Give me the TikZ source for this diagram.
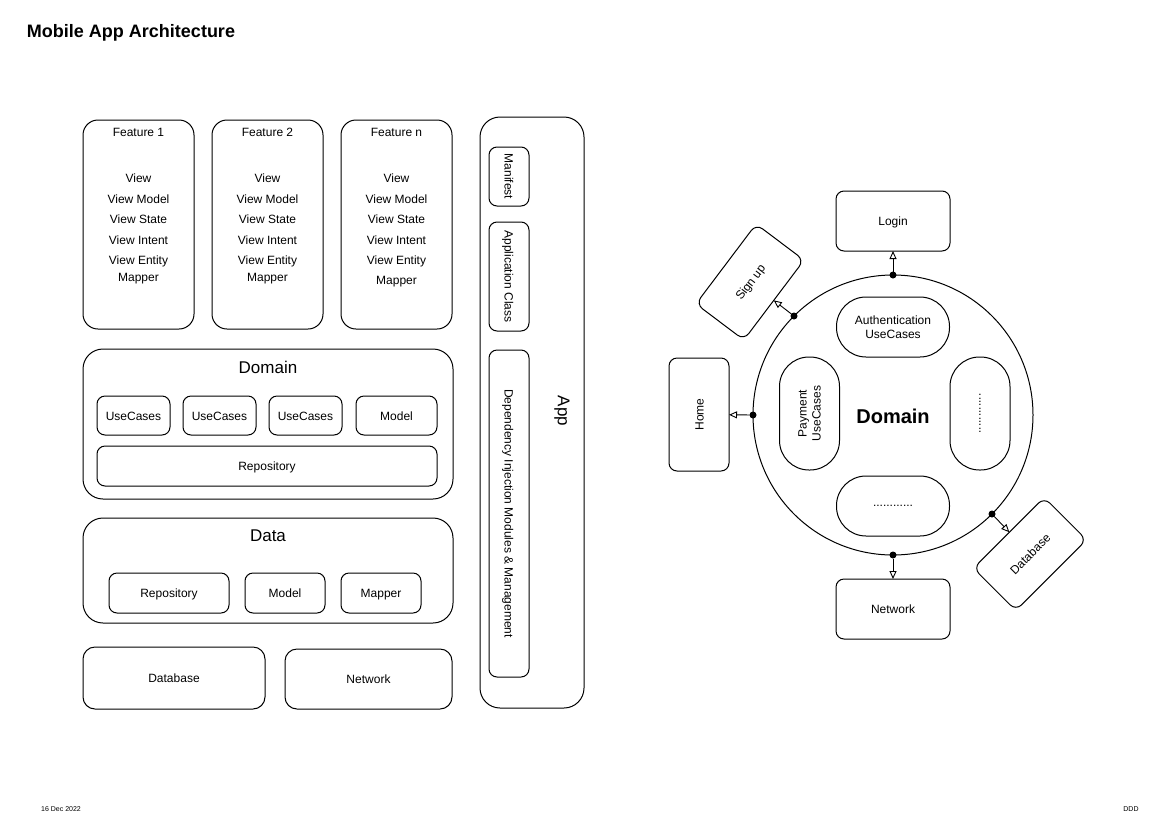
\documentclass[tikz,border=0pt]{standalone}
\usepackage{fontspec}
\setmainfont{Liberation Sans}
\usetikzlibrary{arrows.meta}
\begin{document}
\begin{tikzpicture}[x=1pt,y=-1pt,line width=1pt,
  every node/.style={inner sep=0pt,outer sep=0pt},
  oneline/.style={text height=10pt,text depth=1pt},
  lbl/.style={font=\fontsize{12}{14}\selectfont,oneline},
  head/.style={font=\fontsize{17}{20}\selectfont},
  box/.style={draw,rounded corners=8pt,font=\fontsize{12}{14}\selectfont,align=center,oneline},
  featbox/.style={draw,rounded corners=15pt},
  layer/.style={draw,rounded corners=20pt},
  pill/.style={draw,rounded corners=29.5pt,minimum width=113pt,minimum height=60pt,
    font=\fontsize{12}{14}\selectfont,align=center},
  dot/.style={circle,fill,minimum size=7pt},
  arr/.style={-{Triangle[open,length=8pt,width=7pt]},line width=0.9pt}]
\useasboundingbox[fill=white] (0,0) rectangle (1170,828);

% title and footer
\node[anchor=west,font=\bfseries\fontsize{18}{20}\selectfont] (title) at (27,33) {Mobile App Architecture};
\node[font=\fontsize{7}{8}\selectfont] (date) at (61,809) {16 Dec 2022};
\node[font=\fontsize{7}{8}\selectfont] (author) at (1131,809) {DDD};

% feature modules
\foreach \n/\cx/\t/\my in {f1/138.5/Feature 1/277, f2/267.5/Feature 2/277, fn/396.5/Feature n/280}{
  \node[featbox,minimum width=111pt,minimum height=209pt] (\n) at (\cx,224.5) {};
  \node[lbl] (\n-title) at (\cx,132) {\t};
  \node[lbl] (\n-view) at (\cx,178) {View};
  \node[lbl] (\n-vm) at (\cx,199) {View Model};
  \node[lbl] (\n-vs) at (\cx,219) {View State};
  \node[lbl] (\n-vi) at (\cx,240) {View Intent};
  \node[lbl] (\n-ve) at (\cx,260) {View Entity};
  \node[lbl] (\n-map) at (\cx,\my) {Mapper};
}

% domain layer
\node[layer,minimum width=370pt,minimum height=150pt] (domain) at (268,424) {};
\node[head] (domain-title) at (268,367) {Domain};
\node[box,minimum width=73pt,minimum height=39pt] (uc1) at (133.5,415.5) {UseCases};
\node[box,minimum width=73pt,minimum height=39pt] (uc2) at (219.5,415.5) {UseCases};
\node[box,minimum width=73pt,minimum height=39pt] (uc3) at (305.5,415.5) {UseCases};
\node[box,minimum width=81pt,minimum height=39pt] (dmodel) at (396.5,415.5) {Model};
\node[box,minimum width=340pt,minimum height=40pt] (drepo) at (267,466) {Repository};

% data layer
\node[layer,minimum width=370pt,minimum height=105pt] (data) at (268,570.5) {};
\node[head] (data-title) at (268,536) {Data};
\node[box,minimum width=120pt,minimum height=40pt] (repo) at (169,593) {Repository};
\node[box,minimum width=80pt,minimum height=40pt] (model) at (285,593) {Model};
\node[box,minimum width=80pt,minimum height=40pt] (mapper) at (381,593) {Mapper};

% sources
\node[box,rounded corners=12pt,minimum width=182pt,minimum height=62pt] (db) at (174,678) {Database};
\node[box,rounded corners=12pt,minimum width=167pt,minimum height=60pt] (net) at (368.5,679) {Network};

% app module
\node[layer,minimum width=104pt,minimum height=591pt] (app) at (532,412.5) {};
\node[head,rotate=-90] (app-title) at (562,411) {App};
\node[box,rotate=-90,minimum width=59pt,minimum height=40pt] (manifest) at (509,176.5) {Manifest};
\node[box,rotate=-90,minimum width=109pt,minimum height=40pt] (appclass) at (509,276.5) {Application Class};
\node[box,rotate=-90,minimum width=327pt,minimum height=40pt] (di) at (509,513.5)
  {Dependency Injection Modules \& Management};

% domain-centred view
\node[draw,circle,minimum size=280pt] (ring) at (893,415) {};
\node[font=\bfseries\fontsize{20}{24}\selectfont] (ring-title) at (893,416) {Domain};
\node[pill] (auth) at (893,327) {Authentication\\UseCases};
\node[pill,rotate=90] (pay) at (809.5,413.5) {Payment\\UseCases};
\node[pill,rotate=90] (other1) at (980,413.5) {............};
\node[pill] (other2) at (893,506) {............};

\node[box,minimum width=114pt,minimum height=60pt] (login) at (893,221) {Login};
\node[box,rotate=53,minimum width=100pt,minimum height=60pt] (signup) at (750,282) {Sign up};
\node[box,rotate=90,minimum width=113pt,minimum height=60pt] (home) at (699,414.5) {Home};
\node[box,minimum width=114pt,minimum height=60pt] (network) at (893,609) {Network};
\node[box,rotate=45,minimum width=100pt,minimum height=60pt] (database) at (1030,554) {Database};

\node[dot] (d-login) at (ring.90) {};
\node[dot] (d-signup) at (ring.135) {};
\node[dot] (d-home) at (ring.180) {};
\node[dot] (d-network) at (ring.-90) {};
\node[dot] (d-database) at (ring.-45) {};

\draw[arr] (d-login) -- (login);
\draw[arr] (d-signup) -- (signup);
\draw[arr] (d-home) -- (home);
\draw[arr] (d-network) -- (network);
\draw[arr] (d-database) -- (database);
\end{tikzpicture}
\end{document}
